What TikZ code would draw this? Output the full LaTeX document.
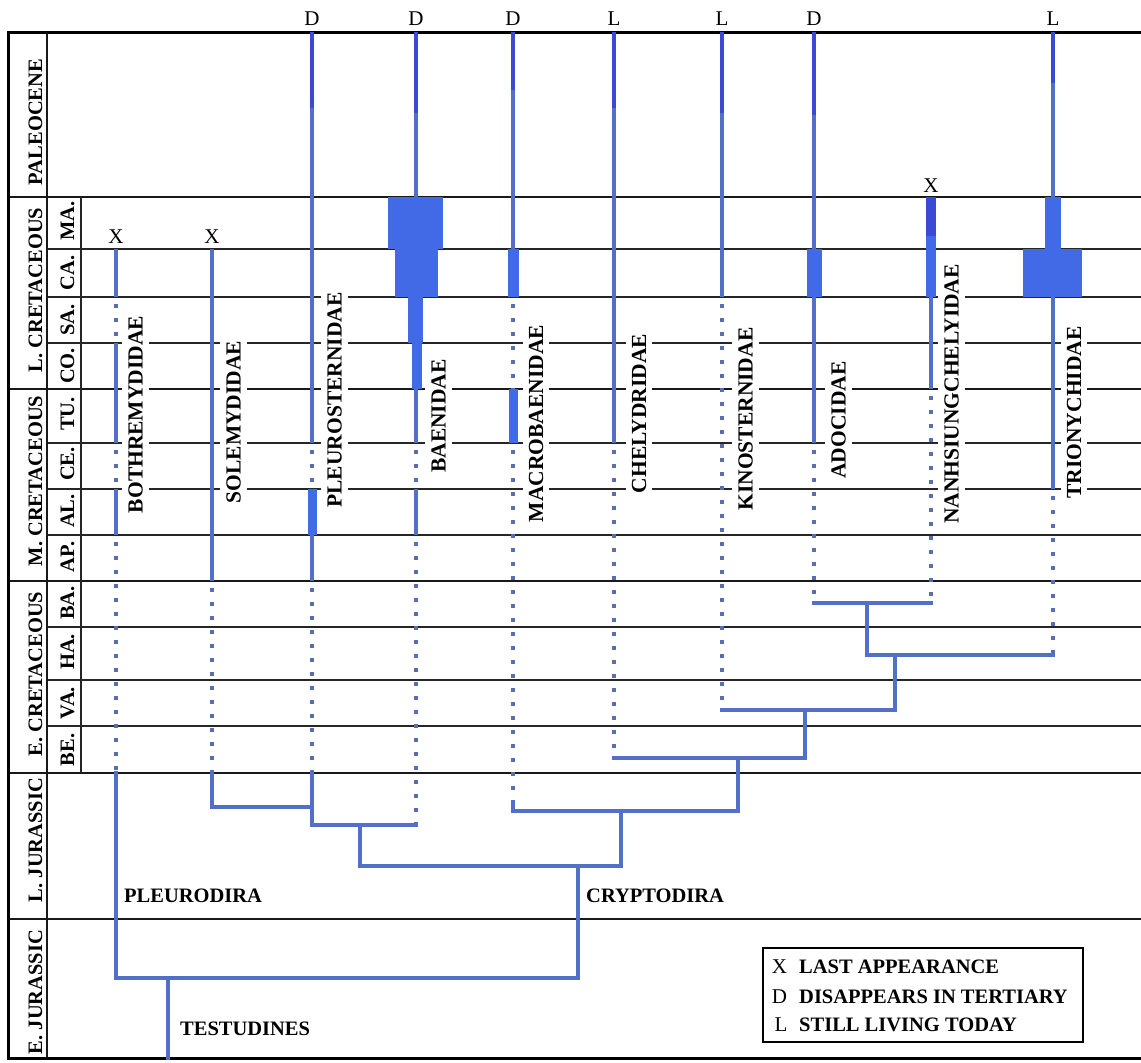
\documentclass[tikz,border=0pt]{standalone}
\usepackage{fontspec}
\setmainfont{Liberation Serif}
\definecolor{ln}{RGB}{82,112,200}
\definecolor{lndark}{RGB}{58,74,212}
\definecolor{bx}{RGB}{66,106,230}
\definecolor{dt}{RGB}{88,110,176}
\begin{document}
\begin{tikzpicture}[x=1pt,y=-1pt,
  gridln/.style={line width=1.8pt, black!85},
  eraln/.style={line width=2pt, black!90},
  frameln/.style={line width=3pt, black},
  sol/.style={line width=4.5pt, ln},
  dk/.style={line width=4.5pt, lndark},
  dots/.style={line width=4pt, dt, dash pattern=on 4pt off 10pt, dash phase=7pt},
  clado/.style={line width=4.5pt, ln, line cap=rect},
  bar/.style={fill=bx, draw=none},
  taxon/.style={rotate=90, fill=white, inner xsep=1pt, inner ysep=6pt, font=\fontsize{21.5}{24}\selectfont\bfseries},
  era/.style={rotate=90, inner sep=0pt, font=\fontsize{20.5}{24}\selectfont\bfseries},
  tipmark/.style={anchor=base, inner sep=0pt, font=\fontsize{21}{24}\selectfont},
  clade/.style={anchor=base west, inner sep=0pt, font=\fontsize{20.5}{24}\selectfont\bfseries},
  legtxt/.style={anchor=base west, inner sep=0pt, font=\fontsize{20.5}{24}\selectfont\bfseries},
]
\useasboundingbox (0,0) rectangle (1141,1063);

% ---------- grid ----------
\foreach \yy in {249,297,343,443,489,535,627,680,726}
  \draw[gridln] (47,\yy) -- (1141,\yy);
\foreach \yy in {197,389,581,773,919}
  \draw[eraln] (8,\yy) -- (1141,\yy);
\draw[eraln] (47,32) -- (47,1058);
\draw[gridln] (81,197) -- (81,773);
\draw[frameln] (1141,32) -- (8,32) -- (8,1058) -- (1141,1058);

% ---------- era and stage labels ----------
\node[era] (ePal) at (35.5,122) {PALEOCENE};
\node[era] (eLC) at (35.5,290) {L. CRETACEOUS};
\node[era] (eMC) at (35.5,481) {M. CRETACEOUS};
\node[era] (eEC) at (35.5,674) {E. CRETACEOUS};
\node[era] (eLJ) at (35.5,840) {L. JURASSIC};
\node[era] (eEJ) at (35.5,992) {E. JURASSIC};
\node[era] (sMA) at (67.5,221) {MA.};
\node[era] (sCA) at (67.5,273) {CA.};
\node[era] (sSA) at (67.5,320) {SA.};
\node[era] (sCO) at (67.5,366) {CO.};
\node[era] (sTU) at (67.5,414) {TU.};
\node[era] (sCE) at (67.5,464) {CE.};
\node[era] (sAL) at (67.5,511) {AL.};
\node[era] (sAP) at (67.5,557) {AP.};
\node[era] (sBA) at (67.5,603) {BA.};
\node[era] (sHA) at (67.5,652) {HA.};
\node[era] (sVA) at (67.5,703) {VA.};
\node[era] (sBE) at (67.5,750) {BE.};

% ---------- taxon ranges ----------
% Bothremydidae
\draw[sol] (116,249) -- (116,297);
\draw[dots] (116,297) -- (116,343);
\draw[sol] (116,343) -- (116,443);
\draw[dots] (116,443) -- (116,489);
\draw[sol] (116,489) -- (116,535);
\draw[dots] (116,535) -- (116,773);
% Solemydidae
\draw[sol] (212,249) -- (212,581);
\draw[dots] (212,581) -- (212,773);
% Pleurosternidae
\draw[dk] (312,32) -- (312,108);
\draw[sol] (312,108) -- (312,443);
\draw[dots] (312,443) -- (312,489);
\fill[bar] (307.5,489) rectangle (317,535);
\draw[sol] (312,535) -- (312,581);
\draw[dots] (312,581) -- (312,773);
% Baenidae
\draw[dk] (416,32) -- (416,113);
\draw[sol] (416,113) -- (416,197);
\fill[bar] (388,197) rectangle (443,249);
\fill[bar] (395,249) rectangle (438,297);
\fill[bar] (408,297) rectangle (423,343);
\fill[bar] (411.5,343) rectangle (421.5,389);
\draw[sol] (416,389) -- (416,443);
\draw[dots] (416,443) -- (416,489);
\draw[sol] (416,489) -- (416,535);
\draw[dots] (416,535) -- (416,825);
% Macrobaenidae
\draw[dk] (513,32) -- (513,90);
\draw[sol] (513,90) -- (513,249);
\fill[bar] (508,249) rectangle (518.5,297);
\draw[dots] (513,297) -- (513,389);
\fill[bar] (508.5,389) rectangle (518,443);
\draw[dots] (513,443) -- (513,802);
% Chelydridae
\draw[dk] (614,32) -- (614,108);
\draw[sol] (614,108) -- (614,443);
\draw[dots] (614,443) -- (614,758);
% Kinosternidae
\draw[dk] (722,32) -- (722,113);
\draw[sol] (722,113) -- (722,297);
\draw[dots] (722,297) -- (722,710);
% Adocidae
\draw[dk] (814,32) -- (814,115);
\draw[sol] (814,115) -- (814,249);
\fill[bar] (807,249) rectangle (822,297);
\draw[sol] (814,297) -- (814,443);
\draw[dots] (814,443) -- (814,603);
% Nanhsiungchelyidae
\fill[lndark] (926,197) rectangle (936,236);
\fill[bar] (926,236) rectangle (936,297);
\draw[sol] (931,297) -- (931,389);
\draw[dots] (931,389) -- (931,603);
% Trionychidae
\draw[dk] (1053,32) -- (1053,83);
\draw[sol] (1053,83) -- (1053,197);
\fill[bar] (1045,197) rectangle (1060.5,249);
\fill[bar] (1023,249) rectangle (1082,297);
\draw[sol] (1053,297) -- (1053,489);
\draw[dots] (1053,489) -- (1053,655);

% ---------- cladogram ----------
\coordinate (tBo) at (116,773);
\coordinate (pl) at (116,978);
\coordinate (root) at (168,978);
\coordinate (base) at (168,1058);
\coordinate (cr) at (578,978);
\coordinate (nCr) at (578,866);
\coordinate (tSo) at (212,773);
\coordinate (tPl) at (312,773);
\coordinate (jSo) at (312,807);
\coordinate (jPl) at (312,825);
\coordinate (tBa) at (416,825);
\coordinate (nPB) at (360,825);
\coordinate (hL) at (360,866);
\coordinate (hR) at (621,866);
\coordinate (nMa) at (621,811);
\coordinate (tMa) at (513,802);
\coordinate (kMa) at (513,811);
\coordinate (jCh) at (738,811);
\coordinate (nCh) at (738,758);
\coordinate (tCh) at (614,758);
\coordinate (jKi) at (805,758);
\coordinate (nKi) at (805,710);
\coordinate (tKi) at (722,710);
\coordinate (jTr) at (895,710);
\coordinate (nTr) at (895,655);
\coordinate (hTL) at (867,655);
\coordinate (tTr) at (1053,655);
\coordinate (nAN) at (867,603);
\coordinate (tAd) at (814,603);
\coordinate (tNa) at (931,603);

\draw[clado] (tBo) -- (pl) -- (cr) -- (nCr);
\draw[clado] (root) -- (base);
\draw[clado] (tSo) |- (jSo);
\draw[clado] (tPl) -- (jPl) -- (tBa);
\draw[clado] (nPB) -- (hL) -- (hR) -- (nMa);
\draw[clado] (tMa) -- (kMa) -- (jCh) -- (nCh);
\draw[clado] (tCh) -- (jKi) -- (nKi);
\draw[clado] (tKi) -- (jTr) -- (nTr);
\draw[clado] (hTL) -- (tTr);
\draw[clado] (hTL) -- (nAN);
\draw[clado] (tAd) -- (tNa);

% ---------- taxon names ----------
\node[taxon] (lBo) at (135.5,414.5) {BOTHREMYDIDAE};
\node[taxon] (lSo) at (233.5,422) {SOLEMYDIDAE};
\node[taxon] (lPl) at (334.5,400) {PLEUROSTERNIDAE};
\node[taxon] (lBa) at (438.5,416) {BAENIDAE};
\node[taxon] (lMa) at (536,423.5) {MACROBAENIDAE};
\node[taxon] (lCh) at (639,413.5) {CHELYDRIDAE};
\node[taxon] (lKi) at (745.5,419) {KINOSTERNIDAE};
\node[taxon] (lAd) at (838.5,420) {ADOCIDAE};
\node[taxon] (lNa) at (951.5,394) {NANHSIUNGCHELYIDAE};
\node[taxon] (lTr) at (1074,412.5) {TRIONYCHIDAE};

% ---------- end marks ----------
\node[tipmark] (mPl) at (312,25) {D};
\node[tipmark] (mBa) at (416,25) {D};
\node[tipmark] (mMa) at (513,25) {D};
\node[tipmark] (mCh) at (614,25) {L};
\node[tipmark] (mKi) at (722,25) {L};
\node[tipmark] (mAd) at (814,25) {D};
\node[tipmark] (mTr) at (1053,25) {L};
\node[tipmark] (mBo) at (116,243) {X};
\node[tipmark] (mSo) at (212,243) {X};
\node[tipmark] (mNa) at (931,192) {X};

% ---------- clade names ----------
\node[clade] (cPleu) at (124,902) {PLEURODIRA};
\node[clade] (cCryp) at (586,902) {CRYPTODIRA};
\node[clade] (cTest) at (180,1035) {TESTUDINES};

% ---------- legend ----------
\node[draw, line width=2.5pt, fill=white, minimum width=320pt, minimum height=94pt, inner sep=0pt] (legend) at (923,995) {};
\node[tipmark] (kX) at (779.5,973) {X};
\node[tipmark] (kD) at (779.5,1003) {D};
\node[tipmark] (kL) at (781,1031) {L};
\node[legtxt] (kXt) at (799,973) {LAST APPEARANCE};
\node[legtxt] (kDt) at (799,1003) {DISAPPEARS IN TERTIARY};
\node[legtxt] (kLt) at (799,1031) {STILL LIVING TODAY};
\end{tikzpicture}
\end{document}
